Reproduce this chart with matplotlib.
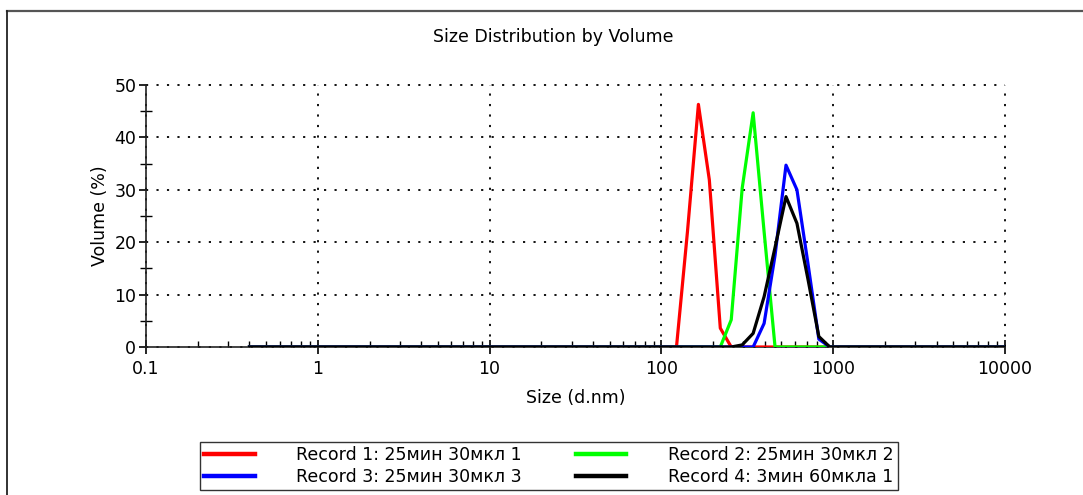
"""Size distribution by volume (DLS) for four records."""
import matplotlib
matplotlib.use("Agg")
import matplotlib.pyplot as plt
from matplotlib.lines import Line2D
from matplotlib.ticker import MultipleLocator, FixedLocator, FixedFormatter

# size bins (d.nm)
sizes = [0.4, 0.4632, 0.5365, 0.6213, 0.7195, 0.8332, 0.9649, 1.117, 1.294, 1.499,
         1.736, 2.010, 2.328, 2.696, 3.122, 3.615, 4.187, 4.849, 5.615, 6.503,
         7.531, 8.721, 10.10, 11.70, 13.54, 15.69, 18.17, 21.04, 24.36, 28.21,
         32.67, 37.84, 43.82, 50.75, 58.77, 68.06, 78.82, 91.28, 105.7, 122.4,
         141.8, 164.2, 190.1, 220.2, 255.0, 295.3, 342.0, 396.1, 458.7, 531.2,
         615.1, 712.4, 825.0, 955.4, 1106, 1281, 1484, 1718, 1990, 2305,
         2669, 3091, 3580, 4145, 4801, 5560, 6439, 7456, 8635, 10000]

# volume (%) per bin
record1 = [0, 0, 0, 0, 0, 0, 0, 0, 0, 0,
           0, 0, 0, 0, 0, 0, 0, 0, 0, 0,
           0, 0, 0, 0, 0, 0, 0, 0, 0, 0,
           0, 0, 0, 0, 0, 0, 0, 0, 0, 0,
           22.0, 46.3, 31.9, 3.6, 0, 0, 0, 0, 0, 0,
           0, 0, 0, 0, 0, 0, 0, 0, 0, 0,
           0, 0, 0, 0, 0, 0, 0, 0, 0, 0]
record2 = [0, 0, 0, 0, 0, 0, 0, 0, 0, 0,
           0, 0, 0, 0, 0, 0, 0, 0, 0, 0,
           0, 0, 0, 0, 0, 0, 0, 0, 0, 0,
           0, 0, 0, 0, 0, 0, 0, 0, 0, 0,
           0, 0, 0, 0, 5.2, 30.3, 44.7, 22.0, 0, 0,
           0, 0, 0, 0, 0, 0, 0, 0, 0, 0,
           0, 0, 0, 0, 0, 0, 0, 0, 0, 0]
record3 = [0, 0, 0, 0, 0, 0, 0, 0, 0, 0,
           0, 0, 0, 0, 0, 0, 0, 0, 0, 0,
           0, 0, 0, 0, 0, 0, 0, 0, 0, 0,
           0, 0, 0, 0, 0, 0, 0, 0, 0, 0,
           0, 0, 0, 0, 0, 0, 0, 4.5, 17.5, 34.7,
           30.0, 16.0, 1.5, 0, 0, 0, 0, 0, 0, 0,
           0, 0, 0, 0, 0, 0, 0, 0, 0, 0]
record4 = [0, 0, 0, 0, 0, 0, 0, 0, 0, 0,
           0, 0, 0, 0, 0, 0, 0, 0, 0, 0,
           0, 0, 0, 0, 0, 0, 0, 0, 0, 0,
           0, 0, 0, 0, 0, 0, 0, 0, 0, 0,
           0, 0, 0, 0, 0, 0.4, 2.6, 9.6, 19.0, 28.7,
           23.6, 13.0, 2.0, 0, 0, 0, 0, 0, 0, 0,
           0, 0, 0, 0, 0, 0, 0, 0, 0, 0]

labels = ["Record 1: 25мин 30мкл 1", "Record 2: 25мин 30мкл 2",
          "Record 3: 25мин 30мкл 3", "Record 4: 3мин 60мкла 1"]
colors = ["#ff0000", "#00ff00", "#0000ff", "#000000"]

x_ticks = [0.1, 1, 10, 100, 1000, 10000]
x_tick_labels = ["0.1", "1", "10", "100", "1000", "10000"]

W, H = 1083, 495
fig = plt.figure(figsize=(W / 100, H / 100), dpi=100)
plt.rcParams["font.family"] = ["DejaVu Sans"]

ax = fig.add_axes([146 / W, 1 - 347 / H, (1005 - 146) / W, (347 - 85) / H])

handles = []
for vals, col, lab in zip([record1, record2, record3, record4], colors, labels):
    line, = ax.plot(sizes, vals, color=col, lw=2.3, label=lab, zorder=3)
    handles.append(line)

ax.set_xscale("log")
ax.set_xlim(0.1, 10000)
ax.set_ylim(0, 50)
ax.xaxis.set_major_locator(FixedLocator(x_ticks))
ax.xaxis.set_major_formatter(FixedFormatter(x_tick_labels))
ax.yaxis.set_major_locator(MultipleLocator(10))
ax.yaxis.set_minor_locator(MultipleLocator(5))

for side in ("top", "right"):
    ax.spines[side].set_visible(False)
for side in ("left", "bottom"):
    ax.spines[side].set_linewidth(1.2)
    ax.spines[side].set_color("#222222")

ax.grid(True, which="major", color="black", linestyle=(0, (1.2, 4.6)), linewidth=1.3)
# keep the grid lines at the top and right limits fully drawn
for gl in ax.get_xgridlines() + ax.get_ygridlines():
    gl.set_clip_on(False)

ax.tick_params(axis="x", which="major", direction="inout", length=10, width=1.2,
               labelsize=12.5, pad=4)
ax.tick_params(axis="x", which="minor", direction="in", length=4, width=1.0)
ax.tick_params(axis="y", which="major", direction="out", length=5, width=1.2,
               labelsize=12.5, pad=2)
ax.tick_params(axis="y", which="minor", direction="inout", length=9, width=1.0)

ax.set_xlabel("Size (d.nm)", fontsize=12.5, labelpad=8)
ax.set_ylabel("Volume (%)", fontsize=12.5, labelpad=4)
fig.text(553 / W, 1 - 37 / H, "Size Distribution by Volume", fontsize=12.5,
         ha="center", va="center")

# outer frame (top and left edges)
fig.add_artist(Line2D([7 / W, 1], [1 - 11 / H, 1 - 11 / H], color="#555555", lw=1.6))
fig.add_artist(Line2D([7 / W, 7 / W], [0, 1 - 11 / H], color="#222222", lw=1.3))

# legend fills column by column
order = [0, 2, 1, 3]
leg = fig.legend([handles[i] for i in order], [labels[i] for i in order],
                 ncol=2, loc="lower left", mode="expand",
                 bbox_to_anchor=(200 / W, 5 / H, 698 / W, 46 / H),
                 fontsize=12.5, handlelength=2.9, handletextpad=2.4,
                 labelspacing=0.2, borderpad=0.25, borderaxespad=0,
                 fancybox=False, frameon=True)
leg.get_frame().set_edgecolor("black")
leg.get_frame().set_linewidth(1.0)
for ln in leg.get_lines():
    ln.set_linewidth(3.2)

fig.savefig("out.png", dpi=100)
